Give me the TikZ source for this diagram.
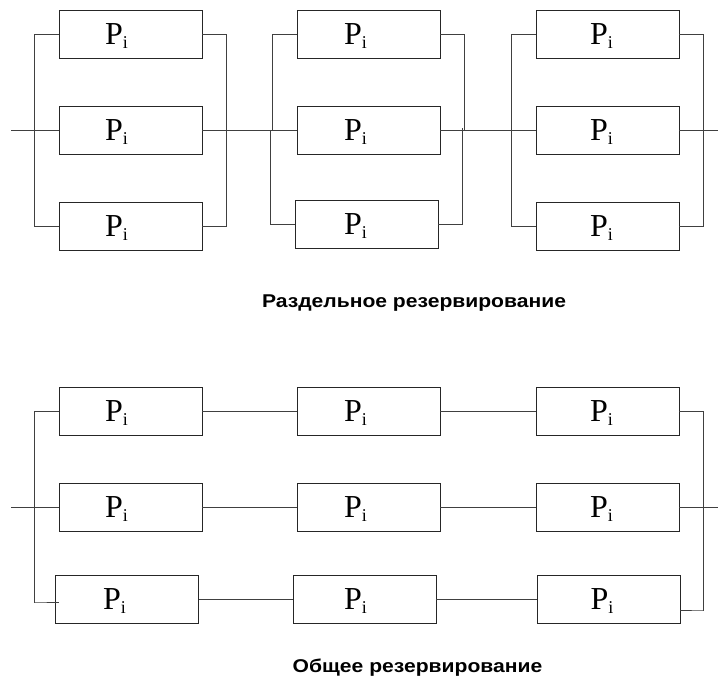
\documentclass[tikz,border=0pt]{standalone}
\usepackage{graphicx}
\usepackage{fontspec}
\setmainfont{Liberation Serif}
\newfontfamily\capfont{Liberation Sans}
\newcommand\pit[1]{\fontsize{32}{32}\selectfont P\smash{\raisebox{-4.5pt}{\fontsize{18}{18}\selectfont i}}\kern#1pt\relax}
\newcommand\captext[1]{\scalebox{1.14}[1]{#1}}
\begin{document}
\begin{tikzpicture}[x=1pt,y=-1pt,
  elem/.style={draw=black!85, line width=0.8pt, rectangle, minimum width=143pt, minimum height=48pt, inner sep=0pt, anchor=center},
  wire/.style={draw=black!75, line width=0.8pt},
  caption/.style={font=\capfont\bfseries\fontsize{18.5}{20}\selectfont, inner sep=0pt}]
\useasboundingbox (0,0) rectangle (718,682);
% ---------- top: separate redundancy ----------
\node[elem] (a1) at (130.5,34)  {\pit{28}};
\node[elem] (a2) at (130.5,130) {\pit{28}};
\node[elem] (a3) at (130.5,226) {\pit{28}};
\node[elem] (b1) at (368.5,34)  {\pit{26}};
\node[elem] (b2) at (368.5,130) {\pit{26}};
\node[elem] (b3) at (366.5,224) {\pit{22}};
\node[elem] (c1) at (607.5,34)  {\pit{12}};
\node[elem] (c2) at (607.5,130) {\pit{12}};
\node[elem] (c3) at (607.5,226) {\pit{12}};
\coordinate (tin) at (11,130);
\coordinate (tout) at (718,130);
% main series line
\draw[wire] (tin) -- (a2.west);
\draw[wire] (a2.east) -- (b2.west);
\draw[wire] (b2.east) -- (c2.west);
\draw[wire] (c2.east) -- (tout);
% group A buses
\draw[wire] (a1.west) -- ++(-24,0) |- (a3.west);
\draw[wire] (a1.east) -- ++(24,0) |- (a3.east);
% group B buses
\draw[wire] (b1.west) -- ++(-24.5,0) -- ++(0,96);
\draw[wire] (b3.west) -- ++(-24,0) -- ++(0,-94);
\draw[wire] (b1.east) -- ++(23.5,0) -- ++(0,96);
\draw[wire] (b3.east) -- ++(24,0) -- ++(0,-96);
% group C buses
\draw[wire] (c1.west) -- ++(-24,0) |- (c3.west);
\draw[wire] (c1.east) -- ++(23.5,0) |- (c3.east);
\node[caption] (cap1) at (414,303) {\captext{Раздельное резервирование}};
% ---------- bottom: general redundancy ----------
\node[elem] (p1) at (130.5,411) {\pit{28}};
\node[elem] (q1) at (368.5,411) {\pit{26}};
\node[elem] (r1) at (607.5,411) {\pit{12}};
\node[elem] (p2) at (130.5,507) {\pit{28}};
\node[elem] (q2) at (368.5,507) {\pit{26}};
\node[elem] (r2) at (607.5,507) {\pit{12}};
\node[elem] (p3) at (127,599)   {\pit{25}};
\node[elem] (q3) at (364.5,599) {\pit{18}};
\node[elem] (r3) at (608.5,599) {\pit{13}};
\draw[wire] (p1) -- (q1) -- (r1);
\draw[wire] (p2) -- (q2) -- (r2);
\draw[wire] (p3) -- (q3) -- (r3);
\coordinate (bin) at (11,507);
\coordinate (bout) at (718,507);
\coordinate (lb) at (35,602);
\coordinate (rb) at (703,610);
\draw[wire] (bin) -- (p2.west);
\draw[wire] (r2.east) -- (bout);
\draw[wire] (p1.west) -- ++(-24,0) |- (lb) -- ++(24,0);
\draw[wire] (r1.east) -- ++(24,0) |- (rb) -- ++(-23,0);
\node[caption] (cap2) at (417.5,668) {\captext{Общее резервирование}};
\end{tikzpicture}
\end{document}
